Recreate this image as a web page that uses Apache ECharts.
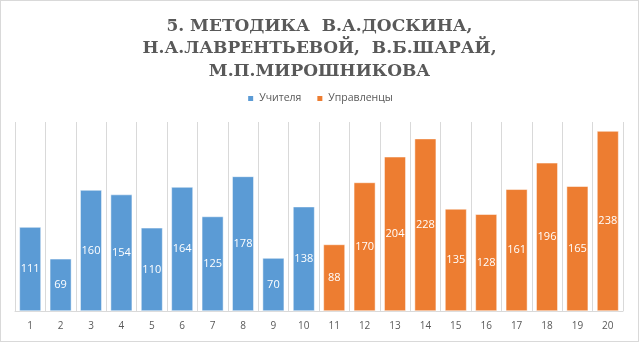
<!DOCTYPE html>
<html>
<head>
<meta charset="utf-8">
<script src="https://cdn.jsdelivr.net/npm/echarts@6/dist/echarts.min.js"></script>
<style>
  html, body { margin: 0; padding: 0; background: #fff; }
  #chart { width: 637px; height: 340px; border: 1px solid #d9d9d9; }
</style>
</head>
<body>
<div id="chart"></div>
<script>
const categories = ["1","2","3","4","5","6","7","8","9","10","11","12","13","14","15","16","17","18","19","20"];
const teachers = [111, 69, 160, 154, 110, 164, 125, 178, 70, 138, null, null, null, null, null, null, null, null, null, null];
const managers = [null, null, null, null, null, null, null, null, null, null, 88, 170, 204, 228, 135, 128, 161, 196, 165, 238];
const titleLines = ["5. МЕТОДИКА  В.А.ДОСКИНА,", "Н.А.ЛАВРЕНТЬЕВОЙ,  В.Б.ШАРАЙ,", "М.П.МИРОШНИКОВА"];

const chart = echarts.init(document.getElementById("chart"));
const labelStyle = {
  show: true,
  position: "inside",
  color: "#ffffff",
  fontSize: 11,
  fontFamily: "Open Sans"
};
chart.setOption({
  animation: false,
  title: {
    text: titleLines.join("\n"),
    left: "center",
    top: 9,
    textStyle: {
      fontFamily: "'DejaVu Serif', serif",
      fontWeight: "bold",
      fontSize: 17,
      lineHeight: 22.5,
      color: "#595959"
    }
  },
  legend: {
    data: ["Учителя", "Управленцы"],
    top: 87,
    left: "center",
    itemWidth: 7,
    itemHeight: 7,
    itemGap: 14,
    icon: "rect",
    textStyle: { fontSize: 10.5, color: "#595959", fontFamily: "Open Sans" }
  },
  grid: { top: 121, left: 14, right: 15, bottom: 30 },
  xAxis: {
    type: "category",
    data: categories,
    axisLine: { lineStyle: { color: "#d9d9d9" } },
    axisTick: { show: false },
    axisLabel: { fontSize: 10, color: "#595959", margin: 10, fontFamily: "Open Sans" },
    splitLine: { show: true, lineStyle: { color: "#d9d9d9", width: 1 } }
  },
  yAxis: {
    type: "value",
    min: 0,
    max: 250,
    show: false,
    splitLine: { show: false }
  },
  series: [
    {
      name: "Учителя",
      type: "bar",
      stack: "all",
      data: teachers,
      barWidth: "71%",
      itemStyle: { color: "#5b9bd5", borderColor: "#ffffff", borderWidth: 0.5 },
      label: labelStyle
    },
    {
      name: "Управленцы",
      type: "bar",
      stack: "all",
      data: managers,
      barWidth: "71%",
      itemStyle: { color: "#ed7d31", borderColor: "#ffffff", borderWidth: 0.5 },
      label: labelStyle
    }
  ]
});
</script>
</body>
</html>
